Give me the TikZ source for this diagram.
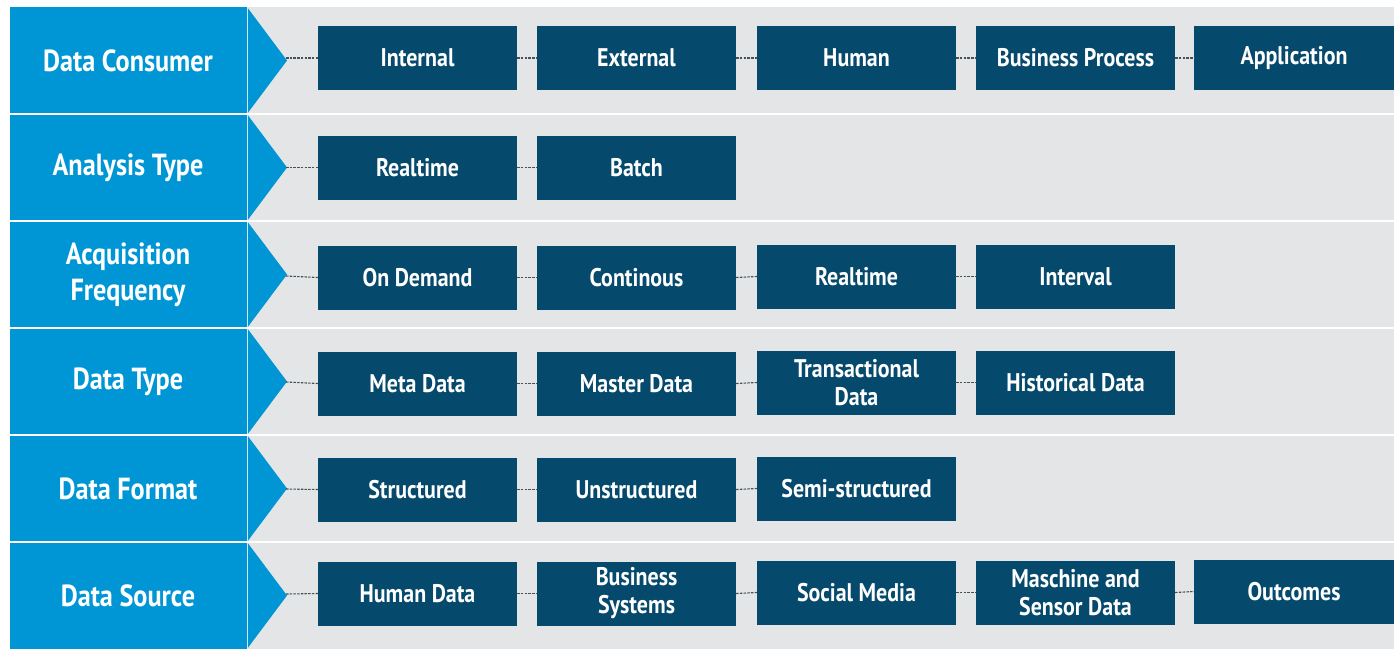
\documentclass[tikz,border=0pt]{standalone}
\usepackage{fontspec}
\setmainfont{PT Sans}[FakeStretch=0.86]
\definecolor{lblue}{HTML}{0096D6}
\definecolor{navy}{HTML}{05496D}
\definecolor{bggrey}{HTML}{E4E5E7}
\definecolor{dashc}{HTML}{44525C}
\begin{document}
\begin{tikzpicture}[x=1pt,y=-1pt,
  cat/.style={text=white,font=\bfseries\fontsize{30.5}{36}\selectfont,align=center,inner sep=0pt},
  item/.style={fill=navy,text=white,minimum width=199pt,minimum height=64pt,inner sep=0pt,
    font=\bfseries\fontsize{25.5}{28}\selectfont,align=center},
  lastitem/.style={item,minimum width=200pt},
  link/.style={draw=dashc,dash pattern=on 2.5pt off 1.2pt,line width=1.1pt},
  sep/.style={draw=white,line width=1.5pt}]
\useasboundingbox (0,0) rectangle (1394,649);
\fill[white] (0,0) rectangle (1394,649);
\fill[bggrey] (247,7) rectangle (1394,649);
\fill[lblue] (10,7) rectangle (247,649);
% chevrons
\foreach \t/\m/\b in {7/60.5/114,114/167.5/221,221/274.5/328,328/381.5/435,435/488.5/542,542/595.5/649}{
  \fill[lblue] (247,\t) -- (287,\m) -- (247,\b) -- cycle;
}
% separators
\foreach \y in {114,221,328,435,542}{
  \draw[sep] (10,\y) -- (1394,\y);
}
\draw[draw=white,line width=1pt,opacity=0.8] (247,7) -- (247,649);
% connector start points at the chevron tips
\coordinate (a1) at (286,58);
\coordinate (a2) at (286,167.5);
\coordinate (a3) at (286,276);
\coordinate (a4) at (286,382);
\coordinate (a5) at (286,489);
\coordinate (a6) at (286,594);
% category labels
\node[cat] (l1) at (128,60.5) {Data Consumer};
\node[cat] (l2) at (128,167.5) {Analysis Type};
\node[cat] (l3) at (128,274.5) {Acquisition\\Frequency};
\node[cat] (l4) at (128,381.5) {Data Type};
\node[cat] (l5) at (128,488.5) {Data Format};
\node[cat] (l6) at (128,595.5) {Data Source};
% row 1
\node[item] (r1c1) at (417.5,58) {Internal};
\node[item] (r1c2) at (636.5,58) {External};
\node[item] (r1c3) at (856.5,58) {Human};
\node[item] (r1c4) at (1075.5,58) {Business Process};
\node[lastitem] (r1c5) at (1294,58) {Application};
% row 2
\node[item] (r2c1) at (417.5,167.5) {Realtime};
\node[item] (r2c2) at (636.5,167.5) {Batch};
% row 3
\node[item] (r3c1) at (417.5,277.5) {On Demand};
\node[item] (r3c2) at (636.5,277.5) {Continous};
\node[item] (r3c3) at (856.5,276.5) {Realtime};
\node[item] (r3c4) at (1075.5,276.5) {Interval};
% row 4
\node[item] (r4c1) at (417.5,383.5) {Meta Data};
\node[item] (r4c2) at (636.5,383.5) {Master Data};
\node[item] (r4c3) at (856.5,382.5) {Transactional\\Data};
\node[item] (r4c4) at (1075.5,382.5) {Historical Data};
% row 5
\node[item] (r5c1) at (417.5,489.5) {Structured};
\node[item] (r5c2) at (636.5,489.5) {Unstructured};
\node[item] (r5c3) at (856.5,488.5) {Semi-structured};
% row 6
\node[item] (r6c1) at (417.5,593.5) {Human Data};
\node[item] (r6c2) at (636.5,593.5) {Business\\Systems};
\node[item] (r6c3) at (856.5,592.5) {Social Media};
\node[item] (r6c4) at (1075.5,592.5) {Maschine and\\Sensor Data};
\node[lastitem] (r6c5) at (1294,591.5) {Outcomes};
% connectors
\draw[link] (a1) -- (r1c1.west);
\draw[link] (r1c1.east) -- (r1c2.west);
\draw[link] (r1c2.east) -- (r1c3.west);
\draw[link] (r1c3.east) -- (r1c4.west);
\draw[link] (r1c4.east) -- (r1c5.west);
\draw[link] (a2) -- (r2c1.west);
\draw[link] (r2c1.east) -- (r2c2.west);
\draw[link] (a3) -- (r3c1.west);
\draw[link] (r3c1.east) -- (r3c2.west);
\draw[link] (r3c2.east) -- (r3c3.west);
\draw[link] (r3c3.east) -- (r3c4.west);
\draw[link] (a4) -- (r4c1.west);
\draw[link] (r4c1.east) -- (r4c2.west);
\draw[link] (r4c2.east) -- (r4c3.west);
\draw[link] (r4c3.east) -- (r4c4.west);
\draw[link] (a5) -- (r5c1.west);
\draw[link] (r5c1.east) -- (r5c2.west);
\draw[link] (r5c2.east) -- (r5c3.west);
\draw[link] (a6) -- (r6c1.west);
\draw[link] (r6c1.east) -- (r6c2.west);
\draw[link] (r6c2.east) -- (r6c3.west);
\draw[link] (r6c3.east) -- (r6c4.west);
\draw[link] (r6c4.east) -- (r6c5.west);
\end{tikzpicture}
\end{document}
